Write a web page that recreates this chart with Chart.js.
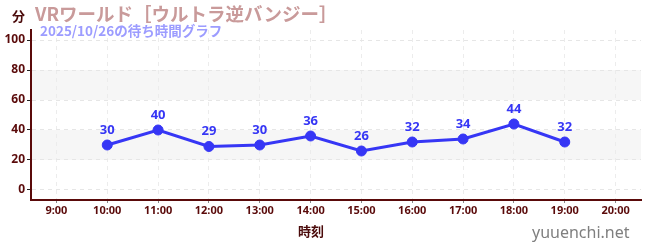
<!DOCTYPE html>
<html>
<head>
<meta charset="utf-8">
<script src="https://cdn.jsdelivr.net/npm/chart.js@4"></script>
<style>
  html, body { margin: 0; padding: 0; background: #fff; }
  #wrap { position: relative; width: 650px; height: 250px; font-family: "Noto Sans CJK JP", "Noto Sans", sans-serif; }
  #wrap canvas { position: absolute; left: 0; top: 0; }
  .txt { position: absolute; white-space: nowrap; font-weight: bold; line-height: 1; }
  #title { left: 35px; top: 4px; font-size: 18.5px; color: #c99a9a; }
  #sub { left: 40px; top: 24px; font-size: 13.5px; color: #9c9cff; }
  #unit { left: 12px; top: 9px; font-size: 13px; color: #4a0a0a; }
  #xlab { left: 298px; top: 224px; font-size: 13px; color: #4a0a0a; }
  #site { left: 532px; top: 224px; font-size: 16px; font-weight: normal; color: #7f7f7f; font-family: "Noto Sans", sans-serif; }
</style>
</head>
<body>
<div id="wrap">
  <canvas id="waitChart" width="650" height="250"></canvas>
  <div class="txt" id="unit">分</div>
  <div class="txt" id="title">VRワールド［ウルトラ逆バンジー］</div>
  <div class="txt" id="sub">2025/10/26の待ち時間グラフ</div>
  <div class="txt" id="xlab">時刻</div>
  <div class="txt" id="site">yuuenchi.net</div>
</div>
<script>
/* ---- DATA ---- */
const HOURS = ['9:00','10:00','11:00','12:00','13:00','14:00','15:00','16:00','17:00','18:00','19:00','20:00'];
const WAIT  = [null, 30, 40, 29, 30, 36, 26, 32, 34, 44, 32, null];
const Y_TICKS = [0, 10, 20, 30, 40, 50, 60, 70, 80, 90, 100];
const BANDS = [[20, 40], [60, 80]];

const AXIS_COLOR = '#5a0a0a';
const LINE_COLOR = '#3636f5';

/* bands behind the grid */
const bandPlugin = {
  id: 'bands',
  beforeDraw(chart) {
    const { ctx, chartArea: a, scales: { y } } = chart;
    ctx.save();
    ctx.fillStyle = '#f6f6f6';
    BANDS.forEach(([lo, hi]) => {
      const top = y.getPixelForValue(hi), bot = y.getPixelForValue(lo);
      ctx.fillRect(a.left, top, a.right - a.left, bot - top);
    });
    ctx.restore();
  }
};

/* value labels above the points */
const labelPlugin = {
  id: 'valueLabels',
  afterDatasetsDraw(chart) {
    const { ctx } = chart;
    const meta = chart.getDatasetMeta(0);
    ctx.save();
    ctx.font = 'bold 13px "Noto Sans", sans-serif';
    ctx.fillStyle = LINE_COLOR;
    ctx.textAlign = 'center';
    ctx.textBaseline = 'middle';
    meta.data.forEach((pt, i) => {
      if (WAIT[i] == null) return;
      ctx.fillText(String(WAIT[i]), pt.x, pt.y - 15);
    });
    ctx.restore();
  }
};

new Chart(document.getElementById('waitChart'), {
  type: 'line',
  data: {
    labels: HOURS,
    datasets: [{
      data: WAIT,
      borderColor: LINE_COLOR,
      backgroundColor: LINE_COLOR,
      borderWidth: 3,
      pointRadius: 5,
      pointBorderWidth: 1,
      pointHoverRadius: 5,
      tension: 0,
      spanGaps: false
    }]
  },
  options: {
    responsive: false, animation: false,
    layout: { padding: { left: 0, right: 9, top: 30, bottom: 0 } },
    plugins: { legend: { display: false }, tooltip: { enabled: false } },
    scales: {
      x: {
        offset: true,
        afterFit: s => { s.height = 50; },
        ticks: { color: AXIS_COLOR, font: { size: 11, weight: 'bold', family: '"Noto Sans", sans-serif' }, padding: 1, maxRotation: 0, autoSkip: false },
        grid: { color: '#ececec', tickColor: '#888', tickLength: 3, offset: false },
        border: { color: AXIS_COLOR, width: 2, dash: [4, 4] }
      },
      y: {
        min: -6.67, max: 106.67,
        afterFit: s => { s.width = 31; },
        afterBuildTicks: s => { s.ticks = Y_TICKS.map(v => ({ value: v })); },
        ticks: {
          color: AXIS_COLOR, padding: 2,
          font: { size: 12, weight: 'bold', family: '"Noto Sans", sans-serif' },
          callback: v => v % 20 === 0 ? v : ''
        },
        grid: {
          color: c => c.tick && c.tick.value % 20 === 0 ? '#e6e6e6' : 'rgba(0,0,0,0)',
          tickColor: c => c.tick && c.tick.value % 20 === 0 ? '#222' : '#d02020',
          tickLength: 4
        },
        border: { color: AXIS_COLOR, width: 2, dash: [4, 4] }
      }
    }
  },
  plugins: [bandPlugin, labelPlugin]
});
</script>
</body>
</html>
